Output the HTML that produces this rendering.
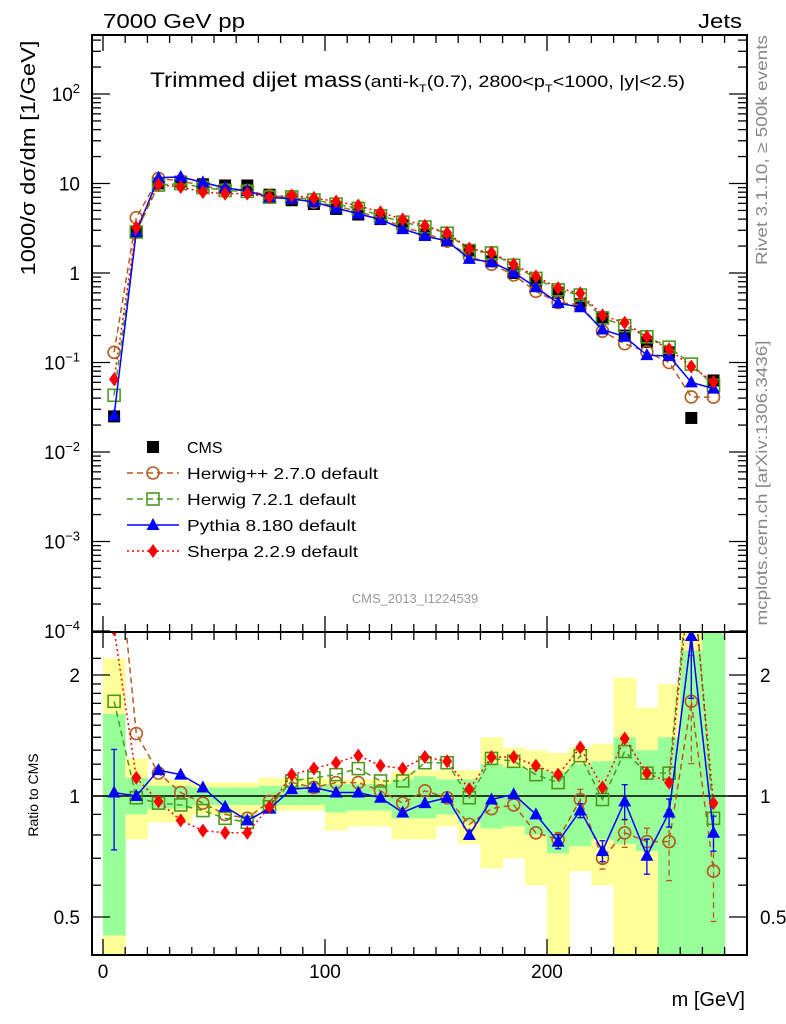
<!DOCTYPE html>
<html><head><meta charset="utf-8">
<style>
html,body{margin:0;padding:0;background:#fff;}
svg{display:block;font-family:"Liberation Sans",sans-serif;}
</style></head>
<body>
<svg id="chart" width="786" height="1024" viewBox="0 0 786 1024" xmlns="http://www.w3.org/2000/svg">
<defs>
<clipPath id="clipMain"><rect x="92" y="35" width="655" height="597"/></clipPath>
<clipPath id="clipRatio"><rect x="92" y="632" width="655" height="323"/></clipPath>
</defs>
<g id="bands" clip-path="url(#clipRatio)"></g>
<g id="grid"></g>
<g id="marks"></g>
<rect x="92" y="35" width="655" height="597" fill="none" stroke="#000" stroke-width="2"/>
<rect x="92" y="632" width="655" height="323" fill="none" stroke="#000" stroke-width="2"/>
<text x="103" y="28" font-size="20" textLength="142" lengthAdjust="spacingAndGlyphs">7000 GeV pp</text>
<text x="698" y="28" font-size="20" textLength="44" lengthAdjust="spacingAndGlyphs">Jets</text>
<text x="150" y="87" font-size="21" textLength="212" lengthAdjust="spacingAndGlyphs">Trimmed dijet mass</text>
<text x="364" y="87" font-size="17" textLength="321" lengthAdjust="spacingAndGlyphs">(anti-k<tspan font-size="11" dy="5">T</tspan><tspan dy="-5">(0.7), 2800&lt;p</tspan><tspan font-size="11" dy="5">T</tspan><tspan dy="-5">&lt;1000, |y|&lt;2.5)</tspan></text>
<text transform="translate(35,158) rotate(-90)" font-size="20" text-anchor="middle" textLength="235" lengthAdjust="spacingAndGlyphs">1000/σ dσ/dm [1/GeV]</text>
<text transform="translate(38,795) rotate(-90)" font-size="14" text-anchor="middle">Ratio to CMS</text>
<text x="745" y="1006" font-size="20" text-anchor="end">m [GeV]</text>
<text transform="translate(767,150) rotate(-90)" font-size="16" fill="#888" text-anchor="middle" textLength="230" lengthAdjust="spacingAndGlyphs">Rivet 3.1.10, ≥ 500k events</text>
<text transform="translate(767,483) rotate(-90)" font-size="16" fill="#888" text-anchor="middle" textLength="285" lengthAdjust="spacingAndGlyphs">mcplots.cern.ch [arXiv:1306.3436]</text>
<text x="415" y="603" font-size="13" fill="#999" text-anchor="middle">CMS_2013_I1224539</text>
<g id="legend"></g>
</svg>
<script>
// ---- data ----
const binCenters = [5,15,25,35,45,55,65,75,85,95,105,115,125,135,145,155,165,175,185,195,205,215,225,235,245,255,265,275];
const cmsValues = [0.025,2.9,10,10.5,9.8,9.5,9.5,7.5,6.5,5.9,5.2,4.5,4.0,3.4,2.7,2.3,1.8,1.35,1.0,0.77,0.6,0.45,0.32,0.2,0.17,0.13,0.024,0.063];
const herwigppRatio = [5.2,1.43,1.14,1.02,0.96,0.90,0.88,0.97,1.08,1.05,1.08,1.08,1.03,0.96,1.03,0.99,0.85,0.93,0.95,0.81,0.78,0.98,0.70,0.81,0.77,0.77,1.72,0.65];
const herwig7Ratio = [1.72,0.99,0.96,0.95,0.92,0.88,0.86,0.94,1.09,1.11,1.13,1.17,1.09,1.09,1.21,1.21,0.99,1.24,1.22,1.13,1.08,1.26,0.98,1.29,1.14,1.14,4.0,0.88];
const pythiaRatio = [1.02,1.0,1.16,1.13,1.05,0.94,0.87,0.93,1.04,1.05,1.02,1.02,0.99,0.91,0.96,0.99,0.80,0.98,1.01,0.90,0.77,0.92,0.73,0.97,0.71,0.91,2.5,0.81];
const sherpaRatio = [2.6,1.11,0.97,0.87,0.82,0.81,0.81,0.94,1.13,1.17,1.21,1.26,1.19,1.17,1.25,1.22,1.04,1.25,1.25,1.19,1.13,1.32,1.05,1.39,1.14,1.08,3.75,0.96];
const pythiaErr = [0.28,0,0,0,0,0,0,0,0,0,0,0,0,0,0,0,0,0,0,0,0.04,0.04,0.06,0.1,0.1,0.08,0.3,0.1];
const herwigppErr = [0,0,0,0,0,0,0,0,0,0,0,0,0,0,0,0,0,0,0,0,0.04,0.06,0.06,0.08,0.08,0.2,0.3,0.25];
const yellowHi = [2.2,1.24,1.1,1.1,1.08,1.08,1.08,1.11,1.11,1.11,1.1,1.1,1.1,1.15,1.16,1.16,1.16,1.40,1.32,1.30,1.28,1.32,1.35,1.97,1.66,1.9,3,3];
const yellowLo = [0.3,0.78,0.86,0.86,0.9,0.9,0.9,0.92,0.92,0.92,0.82,0.84,0.84,0.78,0.78,0.84,0.76,0.66,0.70,0.60,0.3,0.65,0.60,0.3,0.3,0.3,0.3,0.3];
const greenHi = [1.6,1.11,1.06,1.06,1.05,1.05,1.05,1.06,1.06,1.06,1.07,1.07,1.07,1.1,1.12,1.1,1.1,1.2,1.18,1.16,1.15,1.2,1.22,1.4,1.3,1.4,2.3,3];
const greenLo = [0.45,0.9,0.93,0.93,0.95,0.95,0.95,0.95,0.95,0.95,0.91,0.92,0.92,0.88,0.88,0.9,0.86,0.83,0.84,0.8,0.72,0.75,0.78,0.76,0.73,0.3,0.3,0.3];
const xTickLabels = [0,100,200];
const mainTickExps = [-4,-3,-2,-1,0,1,2];
const ratioTickLabels = [0.5,1,2];

// ---- axes ----
const X = m => 103 + m*2.22;
const YM = v => 273 - 89.5*Math.log10(v);
const YR = r => 796 - 402*Math.log10(r);
const NS = "http://www.w3.org/2000/svg";
function mk(tag, attrs, parent){const e=document.createElementNS(NS,tag);for(const k in attrs)e.setAttribute(k,attrs[k]);parent.appendChild(e);return e;}
const svg=document.getElementById('chart');
const bands=document.getElementById('bands');
const grid=document.getElementById('grid');
const marks=document.getElementById('marks');
const legend=document.getElementById('legend');

binCenters.forEach((m,i)=>{
  const x0=X(m-5), x1=X(m+5);
  const y=mk('rect',{x:x0,y:YR(yellowHi[i]),width:x1-x0+0.5,height:YR(yellowLo[i])-YR(yellowHi[i]),fill:'#ffff99'},bands);
  
  
  const g=mk('rect',{x:x0,y:YR(greenHi[i]),width:x1-x0+0.5,height:YR(greenLo[i])-YR(greenHi[i]),fill:'#99ff99'},bands);
  
  
});
const one=mk('line',{x1:92,x2:747,y1:YR(1),y2:YR(1),stroke:'#000','stroke-width':1.5},grid);



for(let m=0;m<=290;m+=10){
  const big=(m%100===0), L=big?16:8;
  [[35,1],[632,-1],[632,1],[955,-1]].forEach(([y0,d])=>{
    mk('line',{x1:X(m),x2:X(m),y1:y0,y2:y0+d*L,stroke:'#000','stroke-width':1.3},grid);
  });
}
xTickLabels.forEach(v=>{
  const t=mk('text',{x:X(v),y:978,'font-size':19,'text-anchor':'middle'},svg);
  t.textContent=v;
  
  
});
for(let e=-4;e<=2;e++){
  for(let k=1;k<10;k++){
    const v=k*Math.pow(10,e), y=YM(v);
    if(y<35||y>632) continue;
    const L=k===1?18:9;
    mk('line',{x1:92,x2:92+L,y1:y,y2:y,stroke:'#000','stroke-width':1.3},grid);
    mk('line',{x1:747,x2:747-L,y1:y,y2:y,stroke:'#000','stroke-width':1.3},grid);
  }
}
mainTickExps.forEach(e=>{
  const t=mk('text',{x:80,y:YM(Math.pow(10,e))+7,'font-size':19,'text-anchor':'end'},svg);
  
  
  if(e===0) t.textContent='1';
  else if(e===1) t.textContent='10';
  else { t.textContent='10'; const s=mk('tspan',{'font-size':13,dy:-8},t); s.textContent=String(e).replace('-','−'); }
});
[0.4,0.5,0.6,0.7,0.8,0.9,1,1.1,1.2,1.3,1.4,1.5,1.6,1.7,1.8,1.9,2,2.2].forEach(v=>{
  const y=YR(v); if(y<632||y>955) return;
  const L=(v===0.5||v===1||v===2)?18:9;
  mk('line',{x1:92,x2:92+L,y1:y,y2:y,stroke:'#000','stroke-width':1.3},grid);
  mk('line',{x1:747,x2:747-L,y1:y,y2:y,stroke:'#000','stroke-width':1.3},grid);
});
ratioTickLabels.forEach(v=>{
  [[80,'end'],[760,'start']].forEach(([x,a])=>{
    const t=mk('text',{x:x,y:YR(v)+7,'font-size':19,'text-anchor':a},svg);
    t.textContent=v;
    
    
  });
});

function marker(kind,x,y,col,parent){
  if(kind==='sq') return mk('rect',{x:x-6,y:y-6,width:12,height:12,fill:'#000'},parent);
  if(kind==='osq') return mk('rect',{x:x-6,y:y-6,width:12,height:12,fill:'none',stroke:col,'stroke-width':1.6},parent);
  if(kind==='circ') return mk('circle',{cx:x,cy:y,r:6,fill:'none',stroke:col,'stroke-width':1.6},parent);
  if(kind==='tri') return mk('polygon',{points:`${x},${y-7} ${x-6.5},${y+5} ${x+6.5},${y+5}`,fill:col},parent);
  if(kind==='dia') return mk('polygon',{points:`${x},${y-7} ${x-5},${y} ${x},${y+7} ${x+5},${y}`,fill:col},parent);
}
const series=[
  {name:'herwigpp',ratio:herwigppRatio,col:'#b35c1e',dash:'6,4',kind:'circ',err:herwigppErr,label:'Herwig++ 2.7.0 default',len:191},
  {name:'herwig7',ratio:herwig7Ratio,col:'#4c9a1c',dash:'6,4',kind:'osq',err:null,label:'Herwig 7.2.1 default',len:169},
  {name:'pythia',ratio:pythiaRatio,col:'#0000ff',dash:'',kind:'tri',err:pythiaErr,label:'Pythia 8.180 default',len:169},
  {name:'sherpa',ratio:sherpaRatio,col:'#ff0000',dash:'2,3',kind:'dia',err:null,label:'Sherpa 2.2.9 default',len:171}
];
const gMain=mk('g',{'clip-path':'url(#clipMain)'},marks);
const gRat=mk('g',{'clip-path':'url(#clipRatio)'},marks);
binCenters.forEach((m,i)=>{
  const s=marker('sq',X(m),YM(cmsValues[i]),'#000',gMain);
  
  
});
series.forEach(s=>{
  const mainVals=s.ratio.map((r,i)=>r*cmsValues[i]);
  const pm=binCenters.map((m,i)=>X(m)+','+YM(mainVals[i])).join(' ');
  const pr=binCenters.map((m,i)=>X(m)+','+YR(s.ratio[i])).join(' ');
  const l1=mk('polyline',{points:pm,fill:'none',stroke:s.col,'stroke-width':1.5,'stroke-dasharray':s.dash},gMain);
  
  
  const l2=mk('polyline',{points:pr,fill:'none',stroke:s.col,'stroke-width':1.5,'stroke-dasharray':s.dash},gRat);
  
  
  binCenters.forEach((m,i)=>{
    if(s.err && s.err[i]>0){
      const r=s.ratio[i], e=s.err[i];
      mk('line',{x1:X(m),x2:X(m),y1:YR(r*(1+e)),y2:YR(r*(1-e)),stroke:s.col,'stroke-width':1.3,'stroke-dasharray':s.dash},gRat);
      mk('line',{x1:X(m)-3,x2:X(m)+3,y1:YR(r*(1+e)),y2:YR(r*(1+e)),stroke:s.col,'stroke-width':1.3},gRat);
      mk('line',{x1:X(m)-3,x2:X(m)+3,y1:YR(r*(1-e)),y2:YR(r*(1-e)),stroke:s.col,'stroke-width':1.3},gRat);
    }
    const a=marker(s.kind,X(m),YM(mainVals[i]),s.col,gMain);
    
    
    const b=marker(s.kind,X(m),YR(s.ratio[i]),s.col,gRat);
    
    
  });
});
const cm=marker('sq',153,447,'#000',legend);


const ct=mk('text',{x:187,y:453,'font-size':16},legend);
ct.textContent='CMS';


series.forEach((s,k)=>{
  const y=473+26*k;
  mk('line',{x1:127,x2:179,y1:y,y2:y,stroke:s.col,'stroke-width':1.5,'stroke-dasharray':s.dash},legend);
  const mm=marker(s.kind,153,y,s.col,legend);
  
  
  const t=mk('text',{x:187,y:y+6,'font-size':16,textLength:s.len,lengthAdjust:'spacingAndGlyphs'},legend);
  t.textContent=s.label;
  
  
});
</script>
</body></html>
